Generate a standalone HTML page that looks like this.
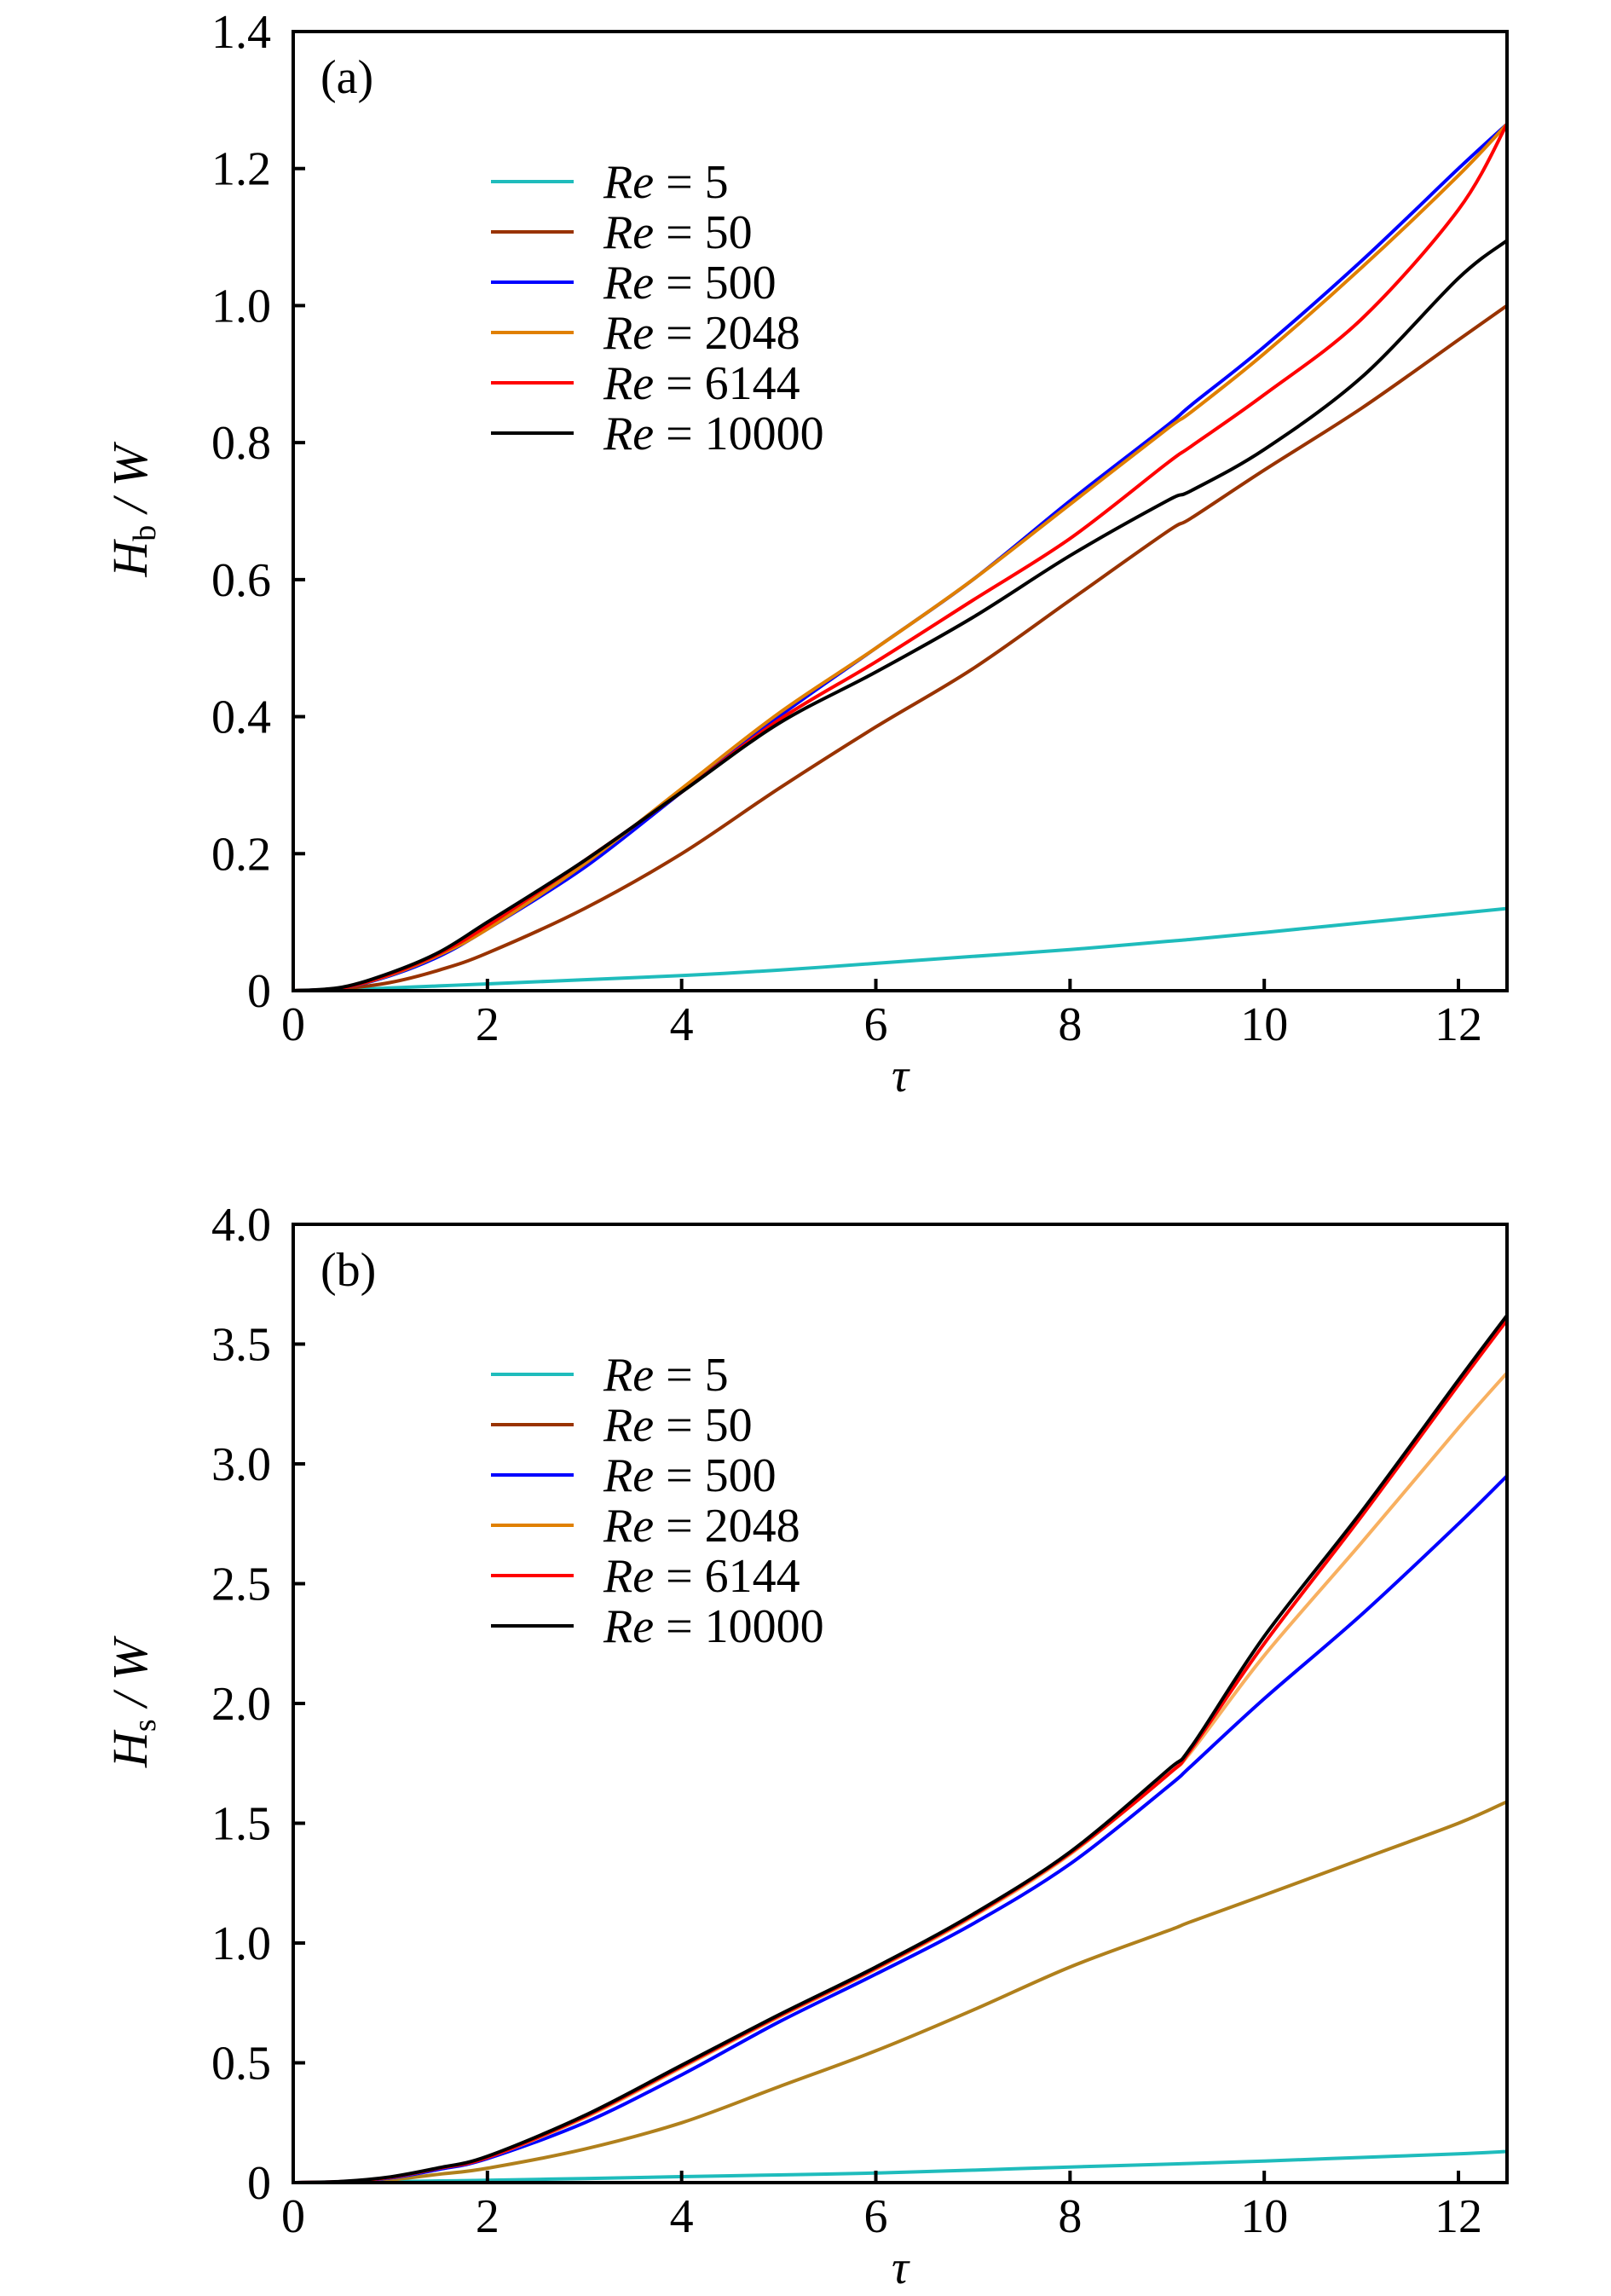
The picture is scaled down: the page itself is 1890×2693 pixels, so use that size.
<!DOCTYPE html>
<html><head><meta charset="utf-8"><style>
html,body{margin:0;padding:0;background:#fff;}
svg{display:block;font-family:"Liberation Serif",serif;}
</style></head><body>
<svg id="chart" width="1890" height="2693" viewBox="0 0 1890 2693" xmlns="http://www.w3.org/2000/svg"></svg>
<script>
const tau = [0,0.5,1,1.5,2,3,4,5,6,7,8,9,9.25,10,11,12,12.5];
const seriesNames = ["Re = 5","Re = 50","Re = 500","Re = 2048","Re = 6144","Re = 10000"];
const reLabels = ["5","50","500","2048","6144","10000"];
const xTicks = [0,2,4,6,8,10,12];
const yTicksA = [0,0.2,0.4,0.6,0.8,1.0,1.2,1.4];
const yTickLabelsA = ["0","0.2","0.4","0.6","0.8","1.0","1.2","1.4"];
const yTicksB = [0,0.5,1.0,1.5,2.0,2.5,3.0,3.5,4.0];
const yTickLabelsB = ["0","0.5","1.0","1.5","2.0","2.5","3.0","3.5","4.0"];
// panel (a) Hb/W
const a_re5    = [0,0.001,0.004,0.007,0.01,0.016,0.022,0.03,0.04,0.05,0.06,0.072,0.075,0.085,0.099,0.113,0.12];
const a_re50   = [0,0.003,0.012,0.03,0.055,0.12,0.2,0.295,0.385,0.47,0.57,0.67,0.69,0.76,0.85,0.95,1.0];
const a_re500  = [0,0.004,0.022,0.05,0.09,0.18,0.29,0.4,0.5,0.6,0.715,0.825,0.855,0.94,1.065,1.2,1.265];
const a_re2048 = [0,0.004,0.023,0.052,0.09,0.185,0.295,0.405,0.5,0.6,0.71,0.82,0.845,0.93,1.055,1.19,1.265];
const a_re6144 = [0,0.004,0.024,0.054,0.095,0.19,0.29,0.395,0.48,0.57,0.66,0.77,0.795,0.87,0.98,1.14,1.265];
const a_re10000= [0,0.005,0.026,0.056,0.1,0.19,0.29,0.39,0.465,0.545,0.635,0.715,0.73,0.79,0.895,1.04,1.095];
// panel (b) Hs/W
const b_re5    = [0,0.001,0.004,0.007,0.01,0.017,0.025,0.032,0.04,0.052,0.065,0.077,0.08,0.09,0.105,0.12,0.13];
const b_re50   = [0,0.003,0.012,0.035,0.06,0.14,0.25,0.4,0.55,0.72,0.9,1.05,1.09,1.2,1.35,1.5,1.59];
const b_re500  = [0,0.004,0.02,0.055,0.1,0.25,0.45,0.67,0.87,1.08,1.33,1.65,1.74,2.02,2.37,2.75,2.95];
const b_re2048 = [0,0.004,0.022,0.06,0.105,0.27,0.48,0.69,0.89,1.11,1.37,1.7,1.8,2.2,2.67,3.15,3.38];
const b_re6144 = [0,0.004,0.022,0.06,0.105,0.275,0.485,0.695,0.895,1.115,1.375,1.7,1.81,2.25,2.78,3.33,3.6];
const b_re10000= [0,0.005,0.024,0.062,0.11,0.28,0.49,0.7,0.9,1.12,1.38,1.72,1.82,2.28,2.8,3.35,3.62];

const NS="http://www.w3.org/2000/svg";
const svg=document.getElementById('chart');
function el(tag,attrs,parent){const e=document.createElementNS(NS,tag);for(const k in attrs)e.setAttribute(k,attrs[k]);(parent||svg).appendChild(e);return e;}

const legendColors=["#1fbcbc","#993300","#0000ff","#e08000","#ff0000","#000000"];

function smoothPath(pts){
  let d='M'+pts[0][0].toFixed(1)+' '+pts[0][1].toFixed(1);
  for(let i=0;i<pts.length-1;i++){
    const p0=pts[Math.max(i-1,0)],p1=pts[i],p2=pts[i+1],p3=pts[Math.min(i+2,pts.length-1)];
    const t=1/6;
    const c1=[p1[0]+(p2[0]-p0[0])*t,p1[1]+(p2[1]-p0[1])*t];
    const c2=[p2[0]-(p3[0]-p1[0])*t,p2[1]-(p3[1]-p1[1])*t];
    d+=' C'+c1[0].toFixed(1)+' '+c1[1].toFixed(1)+' '+c2[0].toFixed(1)+' '+c2[1].toFixed(1)+' '+p2[0].toFixed(1)+' '+p2[1].toFixed(1);
  }
  return d;
}

function panel(cfg){
  const L=344,R=1768,T=cfg.top,B=cfg.bottom;
  const xs=v=>L+(v/12.5)*(R-L);
  const ys=v=>B-(v/cfg.ymax)*(B-T);
  const g=el('g',{});
  
  
  const clipId='clip'+cfg.key;
  const cp=el('clipPath',{id:clipId},g);
  el('rect',{x:L,y:T,width:R-L,height:B-T},cp);
  const lines=el('g',{'clip-path':'url(#'+clipId+')'},g);
  cfg.series.forEach((s,i)=>{
    const pts=tau.map((t,j)=>[xs(t),ys(s[j])]);
    const p=el('path',{d:smoothPath(pts),fill:'none',stroke:cfg.colors[i],'stroke-width':4,'stroke-linejoin':'round'},lines);
    
    
  });
  const fr=el('rect',{x:L,y:T,width:R-L,height:B-T,fill:'none',stroke:'#000','stroke-width':4},g);
  
  
  xTicks.forEach(v=>{
    const x=xs(v);
    const tk=el('line',{x1:x,x2:x,y1:B,y2:B-14,stroke:'#000','stroke-width':4},g);
    
    
    const t=el('text',{x:x,y:B+58,'font-size':56,'text-anchor':'middle'},g);
    t.textContent=v;
    
    
  });
  cfg.yt.forEach((v,i)=>{
    const y=ys(v);
    const tk=el('line',{x1:L,x2:L+14,y1:y,y2:y,stroke:'#000','stroke-width':4},g);
    
    
    const t=el('text',{x:318,y:y+19,'font-size':56,'text-anchor':'end'},g);
    t.textContent=cfg.ytl[i];
    
    
  });
  const xt=el('text',{x:1056,y:B+118,'font-size':56,'font-style':'italic','text-anchor':'middle'},g);
  xt.textContent='τ';
  
  
  const cy=(T+B)/2;
  const yt=el('text',{x:0,y:0,'font-size':58,'text-anchor':'middle',transform:'translate(172,'+cy+') rotate(-90)'},g);
  
  
  const s1=el('tspan',{'font-style':'italic'},yt);s1.textContent='H';
  const s2=el('tspan',{'font-size':38,dy:10},yt);s2.textContent=cfg.sub;
  const s3=el('tspan',{dy:-10,'font-style':'italic'},yt);s3.textContent=' / W';
  const pl=el('text',{x:376,y:T+72,'font-size':56},g);
  pl.textContent=cfg.label;
  
  
  const lg=el('g',{},g);
  
  
  reLabels.forEach((r,i)=>{
    const y=cfg.legTop+i*59;
    const ln=el('line',{x1:576,x2:673,y1:y,y2:y,stroke:legendColors[i],'stroke-width':4},lg);
    
    
    const t=el('text',{x:708,y:y+19,'font-size':56},lg);
    
    
    const a=el('tspan',{'font-style':'italic'},t);a.textContent='Re';
    const b=el('tspan',{},t);b.textContent=' = '+r;
  });
}
panel({key:'a',name:'panel-a',top:37,bottom:1162,ymax:1.4,yt:yTicksA,ytl:yTickLabelsA,sub:'b',label:'(a)',legTop:213,
  series:[a_re5,a_re50,a_re500,a_re2048,a_re6144,a_re10000],
  colors:["#1fbcbc","#993300","#0000ff","#e08000","#ff0000","#000000"]});
panel({key:'b',name:'panel-b',top:1436,bottom:2560,ymax:4.0,yt:yTicksB,ytl:yTickLabelsB,sub:'s',label:'(b)',legTop:1612,
  series:[b_re5,b_re50,b_re500,b_re2048,b_re6144,b_re10000],
  colors:["#1fbcbc","#b0801c","#0000ff","#f8b060","#ff0000","#000000"]});
</script>
</body></html>
